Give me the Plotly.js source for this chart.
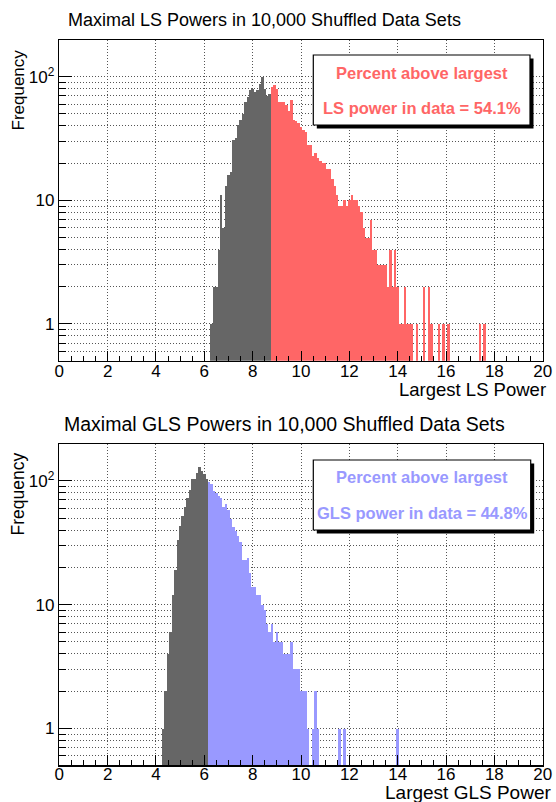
<!DOCTYPE html>
<html><head><meta charset="utf-8">
<script src="https://cdn.plot.ly/plotly-3.0.1.min.js"></script>
<style>html,body{margin:0;padding:0;background:#fff}#chart{width:556px;height:802px}</style>
</head><body><div id="chart"></div><script>
// ---------- DATA (bin centers, bin width 0.1) ----------
const lsDarkX = [6.3,6.4,6.5,6.6,6.7,6.8,6.9,7.0,7.1,7.2,7.3,7.4,7.5,7.6,7.7,7.8,7.9,8.0,8.1,8.2,8.3,8.4,8.5,8.6,8.7];
const lsDarkY = [1,2,2,4,11,6,13,16,17,31,32,41,45,50,63,68,78,80,75,78,88,100,80,70,72];
const lsRedX = [8.8,8.9,9.0,9.1,9.2,9.3,9.4,9.5,9.6,9.7,9.8,9.9,10.0,10.1,10.2,10.3,10.4,10.5,10.6,10.7,10.8,10.9,11.0,11.1,11.2,11.3,11.4,11.5,11.6,11.7,11.8,11.9,12.0,12.1,12.2,12.3,12.4,12.5,12.6,12.7,12.8,12.9,13.0,13.1,13.2,13.3,13.4,13.5,13.6,13.7,13.8,13.9,14.0,14.1,14.2,14.3,14.4,14.5,14.6,14.8,15.1,15.3,15.4,15.7,15.9,16.1,17.4,17.6];
const lsRedY = [83,85,80,62,62,63,59,53,65,45,44,42,39,37,36,28,28,23,24,22,21,20,20,18,18,15,13,11,9,9,10,9,10,11,10,10,9,8,6,5,5,7,4,4,3,3,3,3,2,4,2,4,2,1,1,2,1,1,1,1,2,2,1,1,1,1,1,1];
const glsDarkX = [4.3,4.4,4.5,4.6,4.7,4.8,4.9,5.0,5.1,5.2,5.3,5.4,5.5,5.6,5.7,5.8,5.9,6.0,6.1];
const glsDarkY = [1,2,4,6,12,19,33,43,52,61,72,85,103,103,115,130,120,114,103];
const glsBlueX = [6.2,6.3,6.4,6.5,6.6,6.7,6.8,6.9,7.0,7.1,7.2,7.3,7.4,7.5,7.6,7.7,7.8,7.9,8.0,8.1,8.2,8.3,8.4,8.5,8.6,8.7,8.8,8.9,9.0,9.1,9.2,9.3,9.4,9.5,9.6,9.7,9.8,9.9,10.0,10.1,10.2,10.3,10.5,10.6,10.7,11.6,11.8,14.0];
const glsBlueY = [97,95,83,80,76,72,61,65,58,49,42,39,36,32,23,23,24,18,14,14,12,12,10,9,7,6,7,5,6,5,5,4,4,4,5,3,3,3,2,2,2,1,1,2,1,1,1,1];
const binWidth = 0.1;

const xTickVals = [0,2,4,6,8,10,12,14,16,18,20];
const xTickText = ['0','2','4','6','8','10','12','14','16','18','20'];
const yMajorVals = [1,10,100];
const yMajorText = ['1','10','10<sup>2</sup>'];
const yMinorVals = [0.6,0.7,0.8,0.9,2,3,4,5,6,7,8,9,20,30,40,50,60,70,80,90,200];

const titleTop = 'Maximal LS Powers in 10,000 Shuffled Data Sets';
const titleBot = 'Maximal GLS Powers in 10,000 Shuffled Data Sets';
const xTitleTop = 'Largest LS Power';
const xTitleBot = 'Largest GLS Power';
const yTitle = 'Frequency';
const boxLine1 = 'Percent above largest';
const boxTopLine2 = 'LS power in data = 54.1%';
const boxBotLine2 = 'GLS power in data = 44.8%';

// ---------- LAYOUT ----------
const W = 556, H = 802;
const px = x => x / W, py = y => 1 - y / H;
const FONT = 'Liberation Sans, Arial, Helvetica, sans-serif';
const DARK = '#666666', RED = '#ff6666', BLUE = '#9999ff';
const GRID = '#555555', DASH = '1px,2px';

function bars(x, y, color, xa, ya) {
  return {type:'bar', x:x, y:y, width:binWidth, xaxis:xa, yaxis:ya,
    marker:{color:color, line:{width:0}}, hoverinfo:'skip', showlegend:false};
}
function xAxis(anchor, fs, standoff) {
  return {domain:[px(59.3), px(542.7)], range:[0,20], anchor:anchor, fixedrange:true,
    tickmode:'array', tickvals:xTickVals, ticktext:xTickText,
    ticks:'inside', ticklen:10, tickwidth:1, tickcolor:'#000', ticklabelstandoff:standoff,
    minor:{tickmode:'linear', tick0:0, dtick:0.5, ticks:'inside', ticklen:5, tickwidth:1, tickcolor:'#000', showgrid:false},
    showgrid:true, gridcolor:GRID, griddash:DASH, gridwidth:1,
    showline:true, linecolor:'#000', linewidth:1.5, mirror:true, zeroline:false,
    tickfont:{family:FONT, size:fs, color:'#000'}};
}
function yAxis(anchor, top, bot) {
  return {type:'log', domain:[py(bot), py(top)], range:[-0.297, 2.297], anchor:anchor, fixedrange:true,
    tickmode:'array', tickvals:yMajorVals, ticktext:yMajorText,
    ticks:'inside', ticklen:13, tickwidth:1, tickcolor:'#000',
    minor:{tickmode:'array', tickvals:yMinorVals, ticks:'inside', ticklen:7, tickwidth:1, tickcolor:'#000',
      showgrid:true, gridcolor:GRID, griddash:DASH, gridwidth:1},
    showgrid:true, gridcolor:GRID, griddash:DASH, gridwidth:1,
    showline:true, linecolor:'#000', linewidth:1.5, mirror:true, zeroline:false,
    tickfont:{family:FONT, size:17, color:'#000'}};
}
function ann(text, x, y, size, opts) {
  return Object.assign({text:text, xref:'paper', yref:'paper', x:px(x), y:py(y),
    showarrow:false, xanchor:'center', yanchor:'middle',
    font:{family:FONT, size:size, color:'#000'}}, opts || {});
}
function box(x0, y0, x1, y1) {
  return [
    {type:'rect', xref:'paper', yref:'paper', x0:px(x0+3.5), x1:px(x1+3.5), y0:py(y1+3.5), y1:py(y0+3.5),
      fillcolor:'#000', line:{width:0}, layer:'above'},
    {type:'rect', xref:'paper', yref:'paper', x0:px(x0), x1:px(x1), y0:py(y1), y1:py(y0),
      fillcolor:'#fff', line:{color:'#000', width:1.2}, layer:'above'}
  ];
}

const data = [
  bars(lsDarkX, lsDarkY, DARK, 'x', 'y'),
  bars(lsRedX, lsRedY, RED, 'x', 'y'),
  bars(glsDarkX, glsDarkY, DARK, 'x2', 'y2'),
  bars(glsBlueX, glsBlueY, BLUE, 'x2', 'y2')
];

const layout = {
  width:W, height:H, margin:{l:0, r:0, t:0, b:0},
  paper_bgcolor:'#fff', plot_bgcolor:'#fff',
  barmode:'overlay', bargap:0, showlegend:false,
  font:{family:FONT, color:'#000'},
  xaxis: xAxis('y', 17, -6),
  yaxis: yAxis('x', 40, 360.7),
  xaxis2: xAxis('y2', 17, -7),
  yaxis2: yAxis('x2', 444, 765.3),
  shapes: [].concat(box(313.3, 55, 530, 125), box(313.3, 460, 530.7, 530)),
  annotations: [
    ann(titleTop, 66, 20, 18, {xanchor:'left'}),
    ann(titleBot, 62, 424, 19.5, {xanchor:'left'}),
    ann(yTitle, 17.5, 90, 17, {textangle:-90}),
    ann(yTitle, 17.5, 494, 17.5, {textangle:-90}),
    ann(xTitleTop, 548, 389, 18.5, {xanchor:'right'}),
    ann(xTitleBot, 553, 792, 19, {xanchor:'right'}),
    ann('<b>'+boxLine1+'</b>', 421.7, 73.3, 16.5, {font:{family:FONT, size:16.5, color:RED}}),
    ann('<b>'+boxTopLine2+'</b>', 421.7, 108.3, 16.5, {font:{family:FONT, size:16.5, color:RED}}),
    ann('<b>'+boxLine1+'</b>', 422, 476.7, 16.5, {font:{family:FONT, size:16.5, color:BLUE}}),
    ann('<b>'+boxBotLine2+'</b>', 422, 512.7, 16.5, {font:{family:FONT, size:16.5, color:BLUE}})
  ]
};

Plotly.newPlot('chart', data, layout, {displayModeBar:false, staticPlot:true});
</script></body></html>
